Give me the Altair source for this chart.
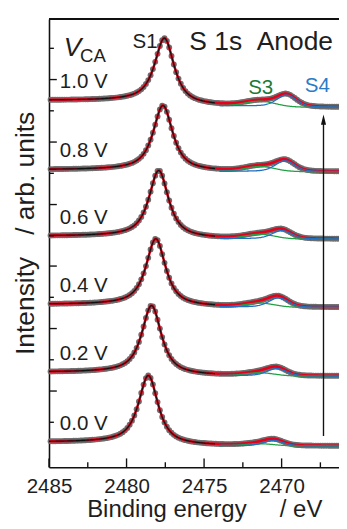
import numpy as np
import pandas as pd
import altair as alt

# ---------------- values ----------------
voltages = ["0.0 V", "0.2 V", "0.4 V", "0.6 V", "0.8 V", "1.0 V"]
# background level on the high-binding-energy side of each (offset) spectrum, arb. units
baseline_high = [25.7, 97.3, 166.7, 236.7, 304.7, 375.7]
# Shirley step of the background (high-BE side minus low-BE side)
shirley_step = [4.0, 4.0, 3.0, 3.0, 2.0, 7.0]
# S1 component
s1_pos = [2478.59, 2478.38, 2478.11, 2477.92, 2477.65, 2477.55]
s1_height = [70.0, 70.0, 68.5, 68.5, 66.6, 66.5]
s1_fwhm = [1.5, 1.5, 1.5, 1.5, 1.5, 1.5]
# S3 component (green)
s3_pos = [2471.4, 2471.4, 2471.4, 2471.4, 2471.4, 2471.4]
s3_height = [2.0, 3.0, 4.0, 4.5, 5.0, 5.0]
s3_fwhm = [2.2, 2.2, 2.2, 2.2, 2.2, 2.2]
# S4 component (blue)
s4_pos = [2470.5, 2470.3, 2470.19, 2469.98, 2469.77, 2469.67]
s4_height = [5.5, 7.5, 9.5, 8.5, 11.0, 12.0]
s4_fwhm = [1.5, 1.5, 1.5, 1.5, 1.5, 1.5]
lorentz_fraction = 0.85

# fit-curve ranges
s1_curve_min = 2474.3
s34_curve_max = 2474.0

# axes
x_domain = [2466.3, 2485.0]
y_domain = [0, 459]
x_major = [2485, 2480, 2475, 2470]
x_minor = [2482.5, 2477.5, 2472.5, 2467.5]
y_ticks_long = [397, 333, 269, 206, 142, 78]
y_ticks_short = [429, 365, 301, 237, 174, 110, 46]

# annotation anchors (binding energy, intensity)
arrow_be = 2467.3
arrow_from = 32
arrow_to = 355

W, H = 297, 459
FONT = "Liberation Sans"
RED, BLACK, GREEN, BLUE, GRAY = "#e5001c", "#111111", "#23a046", "#1f6fc4", "#6d6d6d"
TXT = "#1e1e1e"


def pv(e, c, h, w, eta):
    x = (e - c) / (w / 2.0)
    return h * (eta / (1 + x ** 2) + (1 - eta) * np.exp(-np.log(2) * x ** 2))


fine = np.round(np.arange(x_domain[0], x_domain[1] + 1e-9, 0.05), 3)  # ascending
pts_rows, red_rows, blk_rows, grn_rows, blu_rows = [], [], [], [], []
for i, v in enumerate(voltages):
    p1 = pv(fine, s1_pos[i], s1_height[i], s1_fwhm[i], lorentz_fraction)
    p3 = pv(fine, s3_pos[i], s3_height[i], s3_fwhm[i], 0.0)
    p4 = pv(fine, s4_pos[i], s4_height[i], s4_fwhm[i], 0.3)
    tot = p1 + p3 + p4
    cum = np.concatenate([[0], np.cumsum((tot[1:] + tot[:-1]) / 2)])
    frac = cum / cum[-1]
    bg = baseline_high[i] - shirley_step[i] * (1 - frac)
    fit = bg + tot
    for j, e in enumerate(fine):
        red_rows.append((e, fit[j], v))
        if e >= s1_curve_min:
            blk_rows.append((e, bg[j] + p1[j], v))
        if e <= s34_curve_max:
            grn_rows.append((e, bg[j] + p3[j], v))
            blu_rows.append((e, bg[j] + p4[j], v))
        if j % 3 == 0:
            pts_rows.append((e, fit[j], v))

cols = ["BE", "I", "V"]
pts = pd.DataFrame(pts_rows, columns=cols)
red = pd.DataFrame(red_rows, columns=cols)
blk = pd.DataFrame(blk_rows, columns=cols)
grn = pd.DataFrame(grn_rows, columns=cols)
blu = pd.DataFrame(blu_rows, columns=cols)

NB = "\u00a0"
xscale = alt.Scale(domain=x_domain, reverse=True, nice=False, zero=False)
yscale = alt.Scale(domain=y_domain, nice=False, zero=False)
xaxis = alt.Axis(values=x_major, format="d", labelFlush=False, ticks=False, tickSize=0,
                 grid=False, domainColor=BLACK, domainWidth=1.6, labelFont=FONT,
                 labelFontSize=21, labelColor=TXT, labelPadding=9,
                 title="Binding energy" + NB * 5 + "/ eV", titleFont=FONT, titleFontSize=24.5,
                 titleFontWeight="normal", titleColor=TXT, titleX=159, titleY=51,
                 titleAlign="center", titleBaseline="alphabetic", titleAnchor="start")
yaxis = alt.Axis(labels=False, ticks=False, tickSize=0, grid=False, domainColor=BLACK,
                 domainWidth=1.6,
                 title="Intensity" + NB * 3 + "/ arb." + NB + "units",
                 titleFont=FONT, titleFontSize=27, titleFontWeight="normal", titleColor=TXT,
                 titleAngle=270, titleX=-16, titleY=219, titleAlign="center",
                 titleBaseline="alphabetic", titleAnchor="start")


def X(field="BE"):
    return alt.X(f"{field}:Q", scale=xscale, axis=xaxis)


def Y(field="I"):
    return alt.Y(f"{field}:Q", scale=yscale, axis=yaxis)


layers = []
layers.append(alt.Chart(pts).mark_circle(size=36, color=GRAY, opacity=1).encode(x=X(), y=Y(), detail="V:N"))
layers.append(alt.Chart(red).mark_line(color=RED, strokeWidth=2.6).encode(x=X(), y=Y(), detail="V:N", order="BE:Q"))
layers.append(alt.Chart(blk).mark_line(color=BLACK, strokeWidth=1.2).encode(x=X(), y=Y(), detail="V:N", order="BE:Q"))
layers.append(alt.Chart(grn).mark_line(color=GREEN, strokeWidth=1.3).encode(x=X(), y=Y(), detail="V:N", order="BE:Q"))
layers.append(alt.Chart(blu).mark_line(color=BLUE, strokeWidth=1.3).encode(x=X(), y=Y(), detail="V:N", order="BE:Q"))

# inward ticks
xt_major = pd.DataFrame({"BE": x_major})
xt_minor = pd.DataFrame({"BE": x_minor})
layers.append(alt.Chart(xt_major).mark_rule(color=BLACK, strokeWidth=1.4).encode(x=X(), y=alt.value(H), y2=alt.value(H - 9)))
layers.append(alt.Chart(xt_minor).mark_rule(color=BLACK, strokeWidth=1.4).encode(x=X(), y=alt.value(H), y2=alt.value(H - 5)))
yt_long = pd.DataFrame({"I": y_ticks_long})
yt_short = pd.DataFrame({"I": y_ticks_short})
layers.append(alt.Chart(yt_long).mark_rule(color=BLACK, strokeWidth=1.4).encode(y=Y(), x=alt.value(0), x2=alt.value(8)))
layers.append(alt.Chart(yt_short).mark_rule(color=BLACK, strokeWidth=1.4).encode(y=Y(), x=alt.value(0), x2=alt.value(5)))
# top frame
layers.append(alt.Chart(xt_major).mark_rule(color=BLACK, strokeWidth=1.6).encode(x=alt.value(0), x2=alt.value(W), y=alt.value(0)))

# arrow
arrow = pd.DataFrame({"BE": [arrow_be], "I": [arrow_from], "I2": [arrow_to]})
layers.append(alt.Chart(arrow).mark_rule(color=BLACK, strokeWidth=1.4).encode(x=X(), y=Y(), y2="I2:Q"))
head = pd.DataFrame({"BE": [arrow_be], "I": [arrow_to + 1]})
layers.append(alt.Chart(head).mark_point(shape="M0,-1L0.5,1L-0.5,1Z", size=110, filled=True, color=BLACK, opacity=1).encode(x=X(), y=Y()))

# texts
v_labels = pd.DataFrame({"BE": [2484.3] * 6, "I": [b + 12.5 for b in baseline_high], "t": voltages})
layers.append(alt.Chart(v_labels).mark_text(font=FONT, fontSize=21, align="left", baseline="alphabetic", color=TXT).encode(x=X(), y=Y(), text="t:N"))


def label(be, inten, txt, color=TXT, size=20, align="left", style="normal"):
    d = pd.DataFrame({"BE": [be], "I": [inten], "t": [txt]})
    return alt.Chart(d).mark_text(font=FONT, fontSize=size, align=align, baseline="alphabetic",
                                  color=color, fontStyle=style).encode(x=X(), y=Y(), text="t:N")


layers.append(label(2478.8, 429, "S1", size=21, align="center"))
layers.append(label(2475.95, 427, "S 1s" + NB * 2 + "Anode", size=27))
layers.append(label(2471.35, 382, "S3", color="#1c7a36", size=21, align="center"))
layers.append(label(2467.7, 384, "S4", color="#2b7cc6", size=21, align="center"))
layers.append(label(2484.05, 421, "V", size=27, style="italic"))
layers.append(label(2483.0, 415, "CA", size=19))

chart = alt.layer(*layers).properties(
    width=W, height=H,
    autosize=alt.AutoSizeParams(type="none"),
    padding={"left": 42, "top": 5, "right": 0, "bottom": 57},
).configure_view(stroke=None)

chart.save("out.html", embed_options={"renderer": "svg", "actions": False})
